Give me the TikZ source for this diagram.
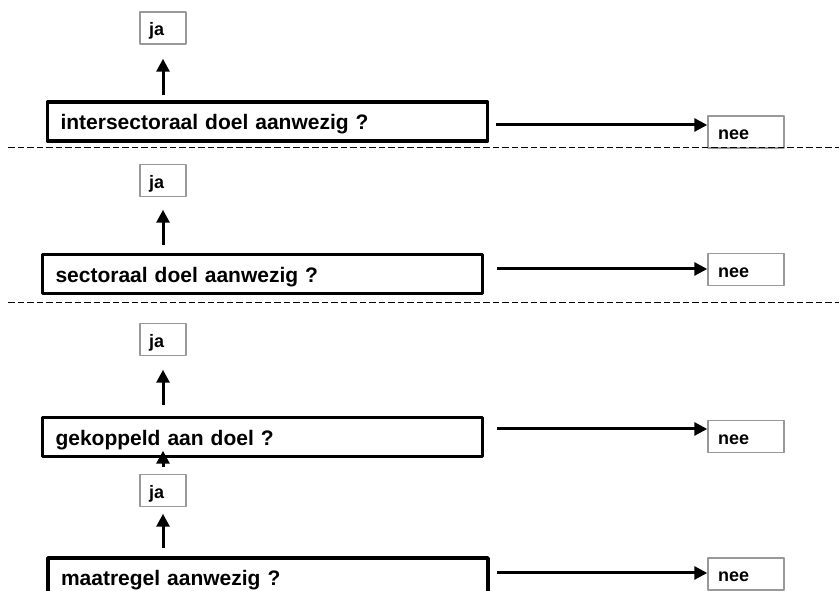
\documentclass[tikz,border=0pt]{standalone}
\usepackage{fontspec}
\setmainfont{Liberation Sans}
\usetikzlibrary{arrows.meta}

\tikzset{
  vraag/.style={draw, rectangle, line width=3.5pt, minimum width=440pt, minimum height=39pt,
    text width=414pt, inner xsep=13pt, inner ysep=2pt, align=left,
    text height=22pt, text depth=5pt, font=\fontsize{21}{24}\selectfont\bfseries},
  antwoord/.style={draw=black!40, rectangle, line width=1.5pt, minimum height=32pt,
    inner xsep=9pt, inner ysep=1pt, align=left,
    text height=20pt, text depth=4pt, font=\fontsize{18}{20}\selectfont\bfseries},
  jabox/.style={antwoord, text width=28pt},
  neebox/.style={antwoord, inner xsep=10pt, text width=56pt},
  pijl/.style={->, line width=3pt},
  scheiding/.style={line width=1pt, dash pattern=on 6.5pt off 3pt}
}

\begin{document}
\begin{tikzpicture}[x=1pt, y=1pt, >={Triangle[length=13pt,width=13pt]}, line join=round]
  \path[use as bounding box] (0,0) rectangle (839,591);
  \clip (0,0) rectangle (839,591);
  % vragen
  \node[vraag] (q1) at (267.5,469.5) {intersectoraal doel aanwezig ?};
  \node[vraag] (q2) at (262.5,317) {sectoraal doel aanwezig ?};
  \node[vraag] (q3) at (262.5,154) {gekoppeld aan doel ?};
  \node[vraag] (q4) at (268,13.5) {maatregel aanwezig ?};
  % ja
  \node[jabox] (j1) at (163,563) {ja};
  \node[jabox] (j2) at (163,410.5) {ja};
  \node[jabox] (j3) at (163,251.5) {ja};
  \node[jabox] (j4) at (163,100.5) {ja};
  % nee
  \node[neebox] (n1) at (746,459) {nee};
  \node[neebox] (n2) at (746,321.5) {nee};
  \node[neebox] (n3) at (746,154.5) {nee};
  \node[neebox] (n4) at (746,17) {nee};
  % scheidingslijnen
  \draw[scheiding] (8,443)--(839,443);
  \draw[scheiding] (8,288)--(839,288);
  % pijlen omhoog
  \draw[pijl, shorten <=5pt, shorten >=14pt] (j1.south |- q1.north) -- (j1.south);
  \draw[pijl, shorten <=7.5pt, shorten >=12.5pt] (j2.south |- q2.north) -- (j2.south);
  \draw[pijl, shorten <=10.5pt, shorten >=13.5pt] (j3.south |- q3.north) -- (j3.south);
  \draw[pijl, shorten <=6.5pt, shorten >=-7.5pt] (j4.north) -- (j4.north |- q3.south);
  \draw[pijl, shorten <=8pt, shorten >=6.5pt] (j4.south |- q4.north) -- (j4.south);
  % pijlen naar nee
  \foreach \q/\n/\dy/\gap in {q1/n1/-3.5/7, q2/n2/5/13, q3/n3/8/13, q4/n4/4.5/7}
    \draw[pijl, shorten <=\gap pt] ([yshift=\dy pt]\q.east) -- ([yshift=\dy pt]\q.east -| \n.west);
\end{tikzpicture}
\end{document}
